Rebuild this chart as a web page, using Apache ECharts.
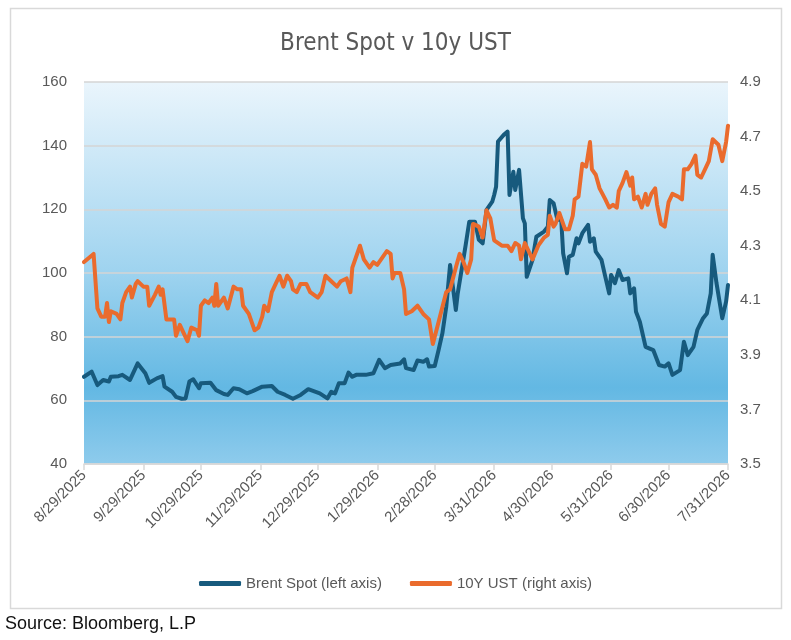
<!DOCTYPE html>
<html>
<head>
<meta charset="utf-8">
<script src="https://cdn.jsdelivr.net/npm/echarts@6/dist/echarts.min.js"></script>
<style>
html,body{margin:0;padding:0;background:#fff;}
#chart{width:791px;height:640px;}
</style>
</head>
<body>
<div id="chart"></div>
<script>
// Day offsets are days since 8/29/2025
var tickDays = [0,31,61,92,122,153,183,214,244,275,305,336];
var tickLabels = ['8/29/2025','9/29/2025','10/29/2025','11/29/2025','12/29/2025','1/29/2026','2/28/2026','3/31/2026','4/30/2026','5/31/2026','6/30/2026','7/31/2026'];
var leftTicks = [40,60,80,100,120,140,160];
var rightTicks = [3.5,3.7,3.9,4.1,4.3,4.5,4.7,4.9];

var brentDays = [0,4,7,10,13,14,18,20,24,28,32,34,38,41,42,46,48,51,53,55,57,60,61,66,69,73,75,78,81,85,88,93,98,101,105,109,113,117,123,127,129,131,133,136,138,140,142,147,151,154,157,160,165,167,168,172,174,177,179,180,183,185,187,189,191,192,194,195,199,201,204,206,208,210,213,214,215,216,219,221,222,224,225,227,229,230,231,234,236,240,242,243,245,247,249,250,252,253,255,257,258,260,263,264,266,267,270,272,274,275,277,279,281,284,285,287,288,290,293,297,300,303,305,307,311,313,315,318,320,323,325,327,328,330,333,335,336];
var brentValues = [67.4,69.0,64.8,66.4,65.9,67.4,67.6,68.0,66.4,71.6,68.5,65.5,66.9,67.6,64.3,62.7,61.1,60.5,60.6,65.9,66.6,63.8,65.4,65.5,63.2,62.0,61.7,63.8,63.5,62.2,62.9,64.3,64.5,62.7,61.7,60.5,61.7,63.5,62.2,60.6,62.7,62.2,65.4,65.4,68.7,67.4,68.0,68.0,68.5,72.7,70.1,71.1,71.6,72.9,70.1,69.5,72.5,72.1,72.9,70.6,70.8,75.8,81.1,89.4,102.5,102.0,88.4,93.6,108.3,116.1,116.1,110.4,109.3,119.8,122.4,124.5,127.1,141.3,143.4,144.4,124.5,131.8,126.1,132.4,117.2,115.6,98.8,104.1,111.4,113.0,114.5,122.9,121.9,116.7,116.7,106.2,99.9,105.1,105.7,110.9,109.3,112.5,115.1,109.8,110.9,106.7,104.1,98.8,93.6,99.4,96.8,100.9,97.8,98.3,93.6,95.2,87.8,84.7,76.8,75.8,71.1,70.6,71.6,68.0,69.5,78.4,74.2,76.8,82.1,85.8,87.3,93.6,105.7,96.8,85.8,91.0,96.2];

var ustDays = [0,5,7,9,11,12,13,14,17,19,20,22,24,25,27,28,31,33,34,37,39,40,41,43,47,48,50,52,54,56,59,60,61,63,65,67,68,69,70,72,73,75,78,80,82,83,86,87,89,91,93,94,96,98,100,102,104,106,108,109,111,113,116,118,122,124,126,129,132,134,137,139,140,144,146,149,151,153,156,158,160,161,162,165,167,168,171,174,175,177,180,182,185,189,191,194,196,198,200,202,203,206,208,210,212,214,218,221,223,225,227,228,230,234,235,237,240,242,243,245,246,248,251,253,255,256,258,260,262,264,265,267,269,272,274,276,278,279,281,283,285,286,287,289,291,293,294,296,298,299,301,303,305,307,310,312,313,315,317,319,320,322,324,326,328,331,333,335,336];
var ustValues = [4.24,4.27,4.07,4.04,4.04,4.09,4.02,4.06,4.05,4.03,4.09,4.13,4.15,4.11,4.16,4.17,4.15,4.15,4.08,4.12,4.15,4.12,4.14,4.03,4.03,3.97,4.01,3.98,3.95,4.00,3.99,3.97,4.08,4.10,4.09,4.11,4.08,4.16,4.08,4.10,4.11,4.07,4.15,4.14,4.14,4.08,4.05,4.03,3.99,4.00,4.04,4.08,4.06,4.13,4.16,4.19,4.15,4.19,4.17,4.14,4.13,4.16,4.16,4.13,4.11,4.13,4.19,4.17,4.15,4.17,4.18,4.13,4.22,4.30,4.25,4.22,4.24,4.23,4.26,4.28,4.27,4.18,4.20,4.20,4.14,4.05,4.06,4.08,4.08,4.05,4.03,3.94,4.02,4.13,4.14,4.22,4.27,4.24,4.20,4.25,4.38,4.37,4.33,4.43,4.40,4.32,4.30,4.30,4.28,4.31,4.30,4.25,4.31,4.25,4.25,4.30,4.33,4.34,4.41,4.37,4.38,4.42,4.36,4.36,4.41,4.47,4.48,4.60,4.59,4.68,4.58,4.56,4.51,4.47,4.44,4.45,4.44,4.50,4.53,4.57,4.52,4.55,4.47,4.48,4.44,4.49,4.45,4.49,4.51,4.45,4.38,4.37,4.46,4.49,4.48,4.47,4.58,4.58,4.60,4.63,4.56,4.55,4.58,4.61,4.69,4.67,4.61,4.68,4.74];

var chart = echarts.init(document.getElementById('chart'), null, {renderer: 'canvas'});
var labelFont = 'Liberation Sans, Arial, sans-serif';
var textColor = '#595959';

chart.setOption({
  animation: false,
  backgroundColor: '#ffffff',
  title: {
    text: 'Brent Spot v 10y UST',
    left: 'center',
    top: 27,
    textStyle: {
      fontFamily: "'Liberation Sans Narrow', 'DejaVu Sans Condensed', sans-serif",
      fontWeight: 'normal',
      fontSize: 24,
      color: textColor
    }
  },
  legend: {
    top: 571,
    left: 'center',
    icon: 'roundRect',
    itemWidth: 42,
    itemHeight: 5,
    itemGap: 28,
    textStyle: {fontFamily: labelFont, fontSize: 15, color: textColor},
    data: ['Brent Spot (left axis)', '10Y UST (right axis)']
  },
  grid: {
    left: 84, right: 63, top: 82, bottom: 176,
    show: true,
    borderWidth: 0,
    backgroundColor: {
      type: 'linear', x: 0, y: 0, x2: 0, y2: 1,
      colorStops: [
        {offset: 0, color: '#eaf5fc'},
        {offset: 0.5, color: '#9ed3ef'},
        {offset: 0.8, color: '#63b8e3'},
        {offset: 1, color: '#8ecbec'}
      ]
    }
  },
  xAxis: {
    type: 'value',
    min: 0,
    max: 336,
    splitLine: {show: false},
    axisLine: {show: true, lineStyle: {color: '#d9d9d9', width: 1.5}},
    axisTick: {show: true, customValues: tickDays, length: 6, lineStyle: {color: '#d9d9d9', width: 1.5}},
    axisLabel: {
      customValues: tickDays,
      rotate: 45,
      margin: 9,
      fontFamily: labelFont,
      fontSize: 15,
      color: textColor,
      formatter: function (v) {
        var i = tickDays.indexOf(Math.round(v));
        return i >= 0 ? tickLabels[i] : '';
      }
    }
  },
  yAxis: [
    {
      type: 'value',
      min: 40,
      max: 160,
      interval: 20,
      axisLine: {show: false},
      axisTick: {show: false},
      splitLine: {show: true, lineStyle: {color: '#d4d4d4', width: 1.5}},
      axisLabel: {margin: 17, fontFamily: labelFont, fontSize: 15, color: textColor}
    },
    {
      type: 'value',
      min: 3.5,
      max: 4.9,
      axisLine: {show: false},
      axisTick: {show: false},
      splitLine: {show: false},
      axisLabel: {
        customValues: rightTicks,
        margin: 12,
        fontFamily: labelFont,
        fontSize: 15,
        color: textColor,
        formatter: function (v) { return Number(v).toFixed(1); }
      }
    }
  ],
  series: [
    {
      name: 'Brent Spot (left axis)',
      type: 'line',
      yAxisIndex: 0,
      showSymbol: false,
      symbol: 'none',
      color: '#175a7d',
      lineStyle: {color: '#175a7d', width: 4, cap: 'round', join: 'round'},
      data: brentDays.map(function (d, i) { return [d, brentValues[i]]; })
    },
    {
      name: '10Y UST (right axis)',
      type: 'line',
      yAxisIndex: 1,
      showSymbol: false,
      symbol: 'none',
      color: '#ea6b2d',
      lineStyle: {color: '#ea6b2d', width: 4, cap: 'round', join: 'round'},
      data: ustDays.map(function (d, i) { return [d, ustValues[i]]; })
    }
  ],
  graphic: [
    {
      type: 'rect',
      silent: true,
      shape: {x: 10.5, y: 8.5, width: 771, height: 600},
      style: {fill: 'none', stroke: '#d9d9d9', lineWidth: 1.5}
    },
    {
      type: 'text',
      silent: true,
      style: {
        x: 5, y: 624,
        text: 'Source: Bloomberg, L.P',
        font: '18px Liberation Sans, Arial, sans-serif',
        fill: '#111111',
        verticalAlign: 'middle'
      }
    }
  ]
});
</script>
</body>
</html>
